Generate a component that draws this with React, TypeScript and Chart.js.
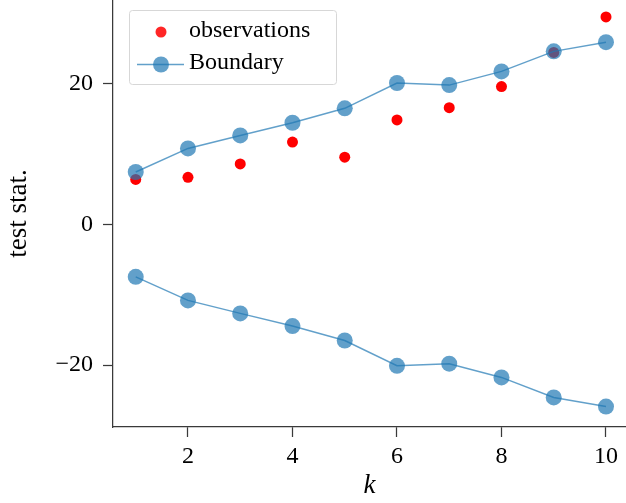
import React, { useEffect, useRef } from "react";
import { Chart, registerables } from "chart.js";

Chart.register(...registerables);

const ks = [1, 2, 3, 4, 5, 6, 7, 8, 9, 10];
const observations = [6.4, 6.7, 8.6, 11.7, 9.55, 14.85, 16.6, 19.6, 24.45, 29.5];
const upperBoundary = [7.45, 10.8, 12.65, 14.45, 16.5, 20.1, 19.8, 21.75, 24.6, 25.9];
const lowerBoundary = upperBoundary.map((v) => -v);
const xTickValues = [2, 4, 6, 8, 10];
const yTickValues = [-20, 0, 20];
const legendLabels = ["observations", "Boundary"];

const BLUE = "rgba(31,119,180,0.7)";
const RED = "rgb(255,0,0)";
const AXIS = "#3a3a3a";
const FONT = "'Liberation Serif', 'Times New Roman', serif";

const legendPlugin = {
  id: "insideLegend",
  afterDraw(chart: any) {
    const ctx = chart.ctx as CanvasRenderingContext2D;
    ctx.save();
    const x0 = 129.5, y0 = 10.5, w = 207, h = 74, r = 3;
    ctx.beginPath();
    ctx.moveTo(x0 + r, y0);
    ctx.lineTo(x0 + w - r, y0);
    ctx.quadraticCurveTo(x0 + w, y0, x0 + w, y0 + r);
    ctx.lineTo(x0 + w, y0 + h - r);
    ctx.quadraticCurveTo(x0 + w, y0 + h, x0 + w - r, y0 + h);
    ctx.lineTo(x0 + r, y0 + h);
    ctx.quadraticCurveTo(x0, y0 + h, x0, y0 + h - r);
    ctx.lineTo(x0, y0 + r);
    ctx.quadraticCurveTo(x0, y0, x0 + r, y0);
    ctx.closePath();
    ctx.fillStyle = "rgba(255,255,255,0.8)";
    ctx.fill();
    ctx.strokeStyle = "rgb(215,215,215)";
    ctx.lineWidth = 1;
    ctx.stroke();

    // observations marker
    ctx.beginPath();
    ctx.arc(161, 32, 5.5, 0, Math.PI * 2);
    ctx.fillStyle = "rgba(255,0,0,0.85)";
    ctx.fill();

    // boundary line + marker
    ctx.beginPath();
    ctx.moveTo(137, 64.5);
    ctx.lineTo(184, 64.5);
    ctx.strokeStyle = BLUE;
    ctx.lineWidth = 1.5;
    ctx.stroke();
    ctx.beginPath();
    ctx.arc(161, 64.5, 8, 0, Math.PI * 2);
    ctx.fillStyle = BLUE;
    ctx.fill();

    ctx.fillStyle = "#000";
    ctx.font = `24px ${FONT}`;
    ctx.textBaseline = "middle";
    ctx.textAlign = "left";
    ctx.fillText(legendLabels[0], 189, 31);
    ctx.fillText(legendLabels[1], 189, 63);
    ctx.restore();
  },
};

export default function App() {
  const ref = useRef<HTMLCanvasElement | null>(null);

  useEffect(() => {
    if (!ref.current) return;
    const chart = new Chart(ref.current, {
      type: "line",
      data: {
        datasets: [
          {
            label: "Boundary",
            data: ks.map((k, i) => ({ x: k, y: upperBoundary[i] })),
            borderColor: BLUE,
            backgroundColor: BLUE,
            borderWidth: 1.5,
            pointRadius: 8,
            pointBorderWidth: 0,
            pointBackgroundColor: BLUE,
            showLine: true,
            fill: false,
          },
          {
            label: "Boundary (lower)",
            data: ks.map((k, i) => ({ x: k, y: lowerBoundary[i] })),
            borderColor: BLUE,
            backgroundColor: BLUE,
            borderWidth: 1.5,
            pointRadius: 8,
            pointBorderWidth: 0,
            pointBackgroundColor: BLUE,
            showLine: true,
            fill: false,
          },
          {
            label: "observations",
            data: ks.map((k, i) => ({ x: k, y: observations[i] })),
            borderColor: RED,
            backgroundColor: RED,
            pointRadius: 5.5,
            pointBorderWidth: 0,
            pointBackgroundColor: RED,
            showLine: false,
          },
        ],
      },
      options: {
        responsive: false,
        animation: false,
        maintainAspectRatio: false,
        layout: { padding: 0, autoPadding: false },
        plugins: {
          legend: { display: false },
          tooltip: { enabled: false },
        },
        scales: {
          x: {
            type: "linear",
            min: 0.565,
            max: 10.383,
            afterFit: (s: any) => {
              s.height = 76;
              s.paddingLeft = 0;
              s.paddingRight = 0;
            },
            afterBuildTicks: (s: any) => {
              s.ticks = xTickValues.map((v) => ({ value: v }));
            },
            grid: {
              drawOnChartArea: false,
              drawTicks: true,
              tickLength: 10,
              tickColor: AXIS,
              tickWidth: 1.25,
            },
            border: { display: true, color: AXIS, width: 1.25 },
            ticks: {
              color: "#000",
              padding: 5,
              maxRotation: 0,
              font: { family: FONT, size: 24 },
              callback: (v: any) => String(v),
            },
            title: {
              display: true,
              text: "k",
              color: "#000",
              padding: { top: 0, bottom: 1 },
              font: { family: FONT, size: 27, style: "italic" },
            },
          },
          y: {
            type: "linear",
            min: -28.8,
            max: 31.9,
            afterFit: (s: any) => {
              s.width = 113;
              s.paddingTop = 0;
              s.paddingBottom = 0;
            },
            afterBuildTicks: (s: any) => {
              s.ticks = yTickValues.map((v) => ({ value: v }));
            },
            grid: {
              drawOnChartArea: false,
              drawTicks: true,
              tickLength: 10,
              tickColor: AXIS,
              tickWidth: 1.25,
            },
            border: { display: true, color: AXIS, width: 1.25 },
            ticks: {
              color: "#000",
              padding: 10,
              font: { family: FONT, size: 24 },
              callback: (v: any) => (v < 0 ? "\u2212" + Math.abs(v) : String(v)),
            },
            title: {
              display: true,
              text: "test stat.",
              color: "#000",
              padding: { top: 3, bottom: 0 },
              font: { family: FONT, size: 27 },
            },
          },
        },
      },
      plugins: [legendPlugin],
    });
    return () => chart.destroy();
  }, []);

  return (
    <div style={{ position: "absolute", left: 0, top: 0, width: 626, height: 503, background: "#fff" }}>
      <canvas ref={ref} width={626} height={503} style={{ display: "block" }} />
    </div>
  );
}
